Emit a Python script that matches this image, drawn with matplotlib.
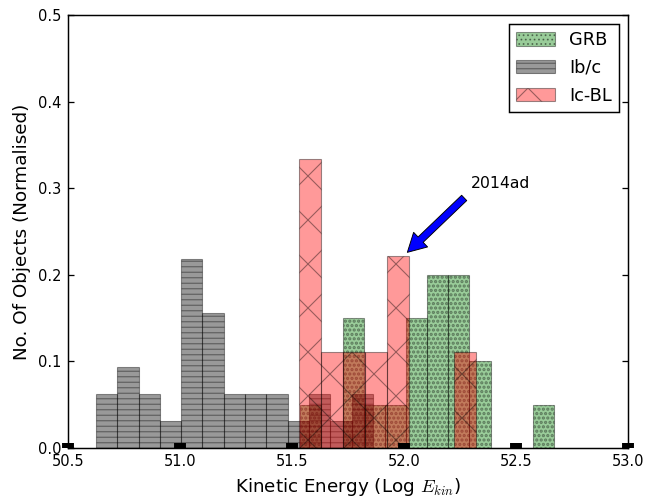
import matplotlib.pyplot as plt
import numpy as np

plt.rcParams['mathtext.fontset'] = 'cm'

# Log kinetic energy histograms: (min, max) of the binned range and counts per bin
grb_range = (51.537, 52.670)
grb_counts = [1, 0, 3, 1, 1, 3, 4, 4, 2, 0, 0, 1]

ibc_range = (50.625, 51.861)
ibc_counts = [2, 3, 2, 1, 7, 5, 2, 2, 2, 1, 2, 1, 2]

icbl_range = (51.531, 52.320)
icbl_counts = [3, 1, 1, 1, 2, 0, 0, 1]

x_ticks = [50.5, 51.0, 51.5, 52.0, 52.5, 53.0]
y_ticks = [0.0, 0.1, 0.2, 0.3, 0.4, 0.5]

# SN 2014ad sits in the 52.0 Ic-BL bin
sn_xy = (52.0, 2 / 9)
sn_text_xy = (52.3, 0.3)


def norm_hist(ax, rng, counts, hatch_lw=0.6, **kw):
    # hatch linewidth is picked up from rcParams when the patches are made
    plt.rcParams['hatch.linewidth'] = hatch_lw
    counts = np.asarray(counts, dtype=float)
    edges = np.linspace(rng[0], rng[1], len(counts) + 1)
    return ax.bar(edges[:-1], counts / counts.sum(), width=np.diff(edges),
                  align='edge', edgecolor='k', linewidth=0.6, **kw)


fig = plt.figure(figsize=(662 / 132, 499 / 132), dpi=132)
ax = fig.add_axes([68 / 662, 51 / 499, 560 / 662, 433 / 499])

norm_hist(ax, grb_range, grb_counts, hatch_lw=1.2, color='g', alpha=0.4,
          hatch='.....', label='GRB')
norm_hist(ax, ibc_range, ibc_counts, color='k', alpha=0.4, hatch='----', label='Ib/c')
norm_hist(ax, icbl_range, icbl_counts, color='r', alpha=0.4, hatch='x', label='Ic-BL')

ax.annotate('2014ad', xy=sn_xy, xytext=sn_text_xy, fontsize=8.5,
            arrowprops=dict(facecolor='blue', edgecolor='k', linewidth=0.5,
                            width=4, headwidth=11, headlength=10, shrink=0.05))

ax.set_xlim(50.5, 53.0)
ax.set_ylim(0.0, 0.5)
ax.set_xticks(x_ticks)
ax.set_yticks(y_ticks)
ax.set_xticklabels([f'{v:.1f}' for v in x_ticks], fontsize=8)
ax.set_yticklabels([f'{v:.1f}' for v in y_ticks], fontsize=8)
ax.tick_params(axis='x', direction='in', length=2.7, width=6.5, top=False, pad=3)
ax.tick_params(axis='y', direction='in', length=3.5, width=0.7, left=True, right=True)
for spine in ax.spines.values():
    spine.set_linewidth(0.8)

ax.set_xlabel('Kinetic Energy (Log $E_{kin}$)', fontsize=10)
ax.set_ylabel('No. Of Objects (Normalised)', fontsize=10)

leg = ax.legend(loc='upper right', fontsize=9.7, fancybox=False, framealpha=1,
                edgecolor='k', handlelength=2.2, handleheight=0.8,
                handletextpad=0.8, labelspacing=0.55, borderpad=0.4)
leg.get_frame().set_linewidth(0.8)

fig.savefig('out.png', dpi=132)
